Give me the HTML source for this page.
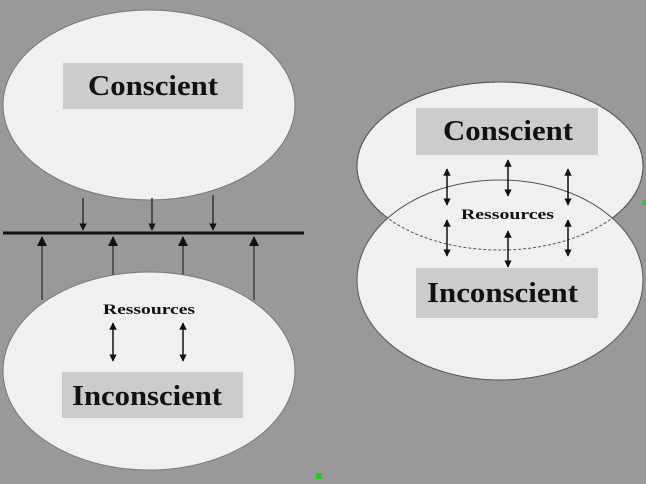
<!DOCTYPE html>
<html><head><style>body{margin:0;background:#999}</style></head><body>
<svg width="646" height="479" viewBox="0 0 646 479" xmlns="http://www.w3.org/2000/svg" font-family="Liberation Serif, serif" font-weight="bold">
<defs>
<marker id="a" viewBox="0 0 10 10" refX="9" refY="5" markerWidth="5" markerHeight="5" orient="auto-start-reverse"><path d="M0,0L10,5L0,10z" fill="#111"/></marker>
</defs>
<rect width="646" height="479" fill="#999"/>
<!-- left -->
<line x1="42" y1="300" x2="42" y2="237" stroke="#555" stroke-width="2" marker-end="url(#a)"/>
<line x1="254" y1="300" x2="254" y2="237" stroke="#555" stroke-width="2" marker-end="url(#a)"/>
<line x1="113" y1="275" x2="113" y2="237" stroke="#555" stroke-width="2" marker-end="url(#a)"/>
<line x1="183" y1="275" x2="183" y2="237" stroke="#555" stroke-width="2" marker-end="url(#a)"/>
<ellipse cx="149" cy="105" rx="146" ry="95" fill="#f0f0f0" stroke="#777"/>
<ellipse cx="149" cy="371" rx="146" ry="99" fill="#f0f0f0" stroke="#777"/>
<line x1="83" y1="198" x2="83" y2="230" stroke="#333" stroke-width="1.5" marker-end="url(#a)"/>
<line x1="152" y1="198" x2="152" y2="230" stroke="#333" stroke-width="1.5" marker-end="url(#a)"/>
<line x1="213" y1="195" x2="213" y2="230" stroke="#333" stroke-width="1.5" marker-end="url(#a)"/>
<line x1="3" y1="233" x2="304" y2="233" stroke="#111" stroke-width="3"/>
<rect x="63" y="63" width="180" height="46" fill="#ccc"/>
<text x="88" y="95" font-size="28" textLength="130" lengthAdjust="spacingAndGlyphs" fill="#111">Conscient</text>
<rect x="62" y="372" width="181" height="46" fill="#ccc"/>
<text x="72" y="405" font-size="28" textLength="150" lengthAdjust="spacingAndGlyphs" fill="#111">Inconscient</text>
<text x="103" y="314" font-size="15" textLength="92" lengthAdjust="spacingAndGlyphs" fill="#111">Ressources</text>
<line x1="113" y1="323" x2="113" y2="361" stroke="#111" stroke-width="1.5" marker-start="url(#a)" marker-end="url(#a)"/>
<line x1="183" y1="323" x2="183" y2="361" stroke="#111" stroke-width="1.5" marker-start="url(#a)" marker-end="url(#a)"/>
<!-- right -->
<ellipse cx="500" cy="166" rx="143" ry="84" fill="#f0f0f0" stroke="#555"/>
<ellipse cx="500" cy="280" rx="143" ry="100" fill="#f0f0f0" stroke="#555"/>
<ellipse cx="500" cy="166" rx="143" ry="84" fill="none" stroke="#555" stroke-dasharray="3 2"/>
<rect x="416" y="108" width="182" height="47" fill="#ccc"/>
<text x="443" y="140" font-size="28" textLength="130" lengthAdjust="spacingAndGlyphs" fill="#111">Conscient</text>
<rect x="416" y="268" width="182" height="50" fill="#ccc"/>
<text x="427" y="302" font-size="28" textLength="151" lengthAdjust="spacingAndGlyphs" fill="#111">Inconscient</text>
<text x="461" y="219" font-size="15" textLength="93" lengthAdjust="spacingAndGlyphs" fill="#111">Ressources</text>
<g stroke="#111" stroke-width="1.5">
<line x1="447" y1="169" x2="447" y2="205" marker-start="url(#a)" marker-end="url(#a)"/>
<line x1="568" y1="169" x2="568" y2="205" marker-start="url(#a)" marker-end="url(#a)"/>
<line x1="508" y1="160" x2="508" y2="196" marker-start="url(#a)" marker-end="url(#a)"/>
<line x1="447" y1="220" x2="447" y2="256" marker-start="url(#a)" marker-end="url(#a)"/>
<line x1="568" y1="220" x2="568" y2="256" marker-start="url(#a)" marker-end="url(#a)"/>
<line x1="508" y1="231" x2="508" y2="267" marker-start="url(#a)" marker-end="url(#a)"/>
</g>
<rect x="643" y="200" width="4" height="5" fill="#2c2"/>
<rect x="316" y="473" width="6" height="6" fill="#2c2"/>
</svg>
</body></html>
